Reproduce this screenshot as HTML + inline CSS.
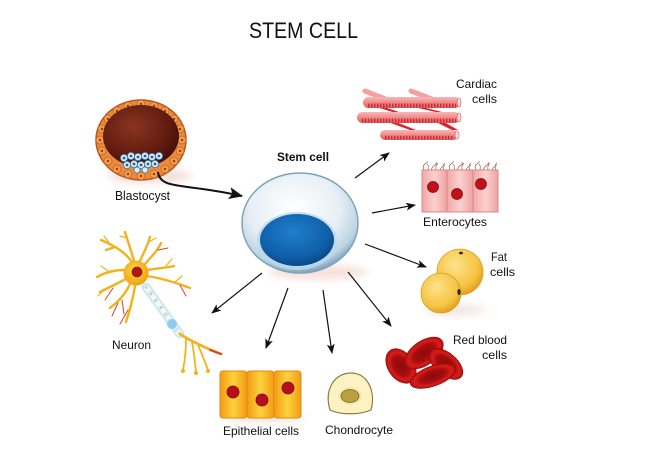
<!DOCTYPE html>
<html><head><meta charset="utf-8"><style>
html,body{margin:0;padding:0;background:#fff;}
svg{display:block;}
text{font-family:"Liberation Sans",Arial,sans-serif;fill:#111;}
</style></head><body>
<svg width="649" height="464" viewBox="0 0 649 464" xmlns="http://www.w3.org/2000/svg">
<defs>
<marker id="ah" markerUnits="userSpaceOnUse" markerWidth="10" markerHeight="8" refX="9" refY="4" orient="auto"><path d="M0,0 L10,4 L0,8 L2.5,4 z" fill="#111"/></marker>
<marker id="ahb" markerUnits="userSpaceOnUse" markerWidth="14" markerHeight="12" refX="13" refY="6" orient="auto"><path d="M0,0 L14,6 L0,12 L3,6 z" fill="#111"/></marker>
<radialGradient id="cellG" cx="0.45" cy="0.35" r="0.65"><stop offset="0" stop-color="#ffffff"/><stop offset="0.6" stop-color="#e6eff5"/><stop offset="0.88" stop-color="#bcd3e1"/><stop offset="1" stop-color="#7fa4bb"/></radialGradient>
<radialGradient id="nucG" cx="0.45" cy="0.35" r="0.7"><stop offset="0" stop-color="#1f7fcc"/><stop offset="0.7" stop-color="#0f5ea8"/><stop offset="1" stop-color="#0a3f7a"/></radialGradient>
<radialGradient id="cavG" cx="0.4" cy="0.35" r="0.7"><stop offset="0" stop-color="#8a3520"/><stop offset="0.7" stop-color="#5e1a0e"/><stop offset="1" stop-color="#3e0d06"/></radialGradient>
<radialGradient id="fatG" cx="0.4" cy="0.35" r="0.7"><stop offset="0" stop-color="#fde28a"/><stop offset="0.7" stop-color="#f5c442"/><stop offset="1" stop-color="#e09a1a"/></radialGradient>
<linearGradient id="epiG" x1="0" x2="1" y1="0" y2="0"><stop offset="0" stop-color="#f39a14"/><stop offset="0.5" stop-color="#fdd23c"/><stop offset="1" stop-color="#f39a14"/></linearGradient>
<linearGradient id="entG" x1="0" x2="1" y1="0" y2="0"><stop offset="0" stop-color="#f2a7a7"/><stop offset="0.5" stop-color="#fbd2d0"/><stop offset="1" stop-color="#f0a2a2"/></linearGradient>
<linearGradient id="tubeG" x1="0" x2="0" y1="0" y2="1"><stop offset="0" stop-color="#f9b8b8"/><stop offset="0.5" stop-color="#f08a8a"/><stop offset="1" stop-color="#e05a5a"/></linearGradient>
<radialGradient id="rbcG" cx="0.5" cy="0.5" r="0.5"><stop offset="0" stop-color="#8a0a0a"/><stop offset="0.55" stop-color="#a80e0e"/><stop offset="0.8" stop-color="#d81c1c"/><stop offset="1" stop-color="#b01010"/></radialGradient>
<radialGradient id="somaG" cx="0.45" cy="0.4" r="0.6"><stop offset="0" stop-color="#ffd84a"/><stop offset="1" stop-color="#f0a010"/></radialGradient>
<filter id="blur" x="-50%" y="-50%" width="200%" height="200%"><feGaussianBlur stdDeviation="4"/></filter>
</defs>

<!-- Title -->
<text x="249" y="38" font-size="22" textLength="109" lengthAdjust="spacingAndGlyphs">STEM CELL</text>

<!-- Blastocyst -->
<ellipse cx="150" cy="176" rx="42" ry="7" fill="#e8c8c0" opacity="0.6" filter="url(#blur)"/>
<ellipse cx="141" cy="140" rx="45" ry="40" fill="#e98a3c" stroke="#b8561c" stroke-width="1.5"/>
<g fill="#f29c4c" stroke="#c0621f" stroke-width="0.7">
<circle cx="182" cy="140" r="4"/><circle cx="180" cy="151" r="4"/><circle cx="174" cy="161" r="4"/><circle cx="165" cy="169" r="4"/><circle cx="154" cy="174" r="4"/><circle cx="141" cy="176" r="4"/><circle cx="128" cy="174" r="4"/><circle cx="117" cy="169" r="4"/><circle cx="108" cy="161" r="4"/><circle cx="102" cy="151" r="4"/><circle cx="100" cy="140" r="4"/><circle cx="102" cy="129" r="4"/><circle cx="108" cy="119" r="4"/><circle cx="117" cy="111" r="4"/><circle cx="128" cy="106" r="4"/><circle cx="141" cy="104" r="4"/><circle cx="154" cy="106" r="4"/><circle cx="165" cy="111" r="4"/><circle cx="174" cy="119" r="4"/><circle cx="180" cy="129" r="4"/>
</g>
<g fill="#9a3a12">
<circle cx="182" cy="140" r="1.2"/><circle cx="180" cy="151" r="1.2"/><circle cx="174" cy="161" r="1.2"/><circle cx="165" cy="169" r="1.2"/><circle cx="154" cy="174" r="1.2"/><circle cx="141" cy="176" r="1.2"/><circle cx="128" cy="174" r="1.2"/><circle cx="117" cy="169" r="1.2"/><circle cx="108" cy="161" r="1.2"/><circle cx="102" cy="151" r="1.2"/><circle cx="100" cy="140" r="1.2"/><circle cx="102" cy="129" r="1.2"/><circle cx="108" cy="119" r="1.2"/><circle cx="117" cy="111" r="1.2"/><circle cx="128" cy="106" r="1.2"/><circle cx="141" cy="104" r="1.2"/><circle cx="154" cy="106" r="1.2"/><circle cx="165" cy="111" r="1.2"/><circle cx="174" cy="119" r="1.2"/><circle cx="180" cy="129" r="1.2"/>
</g>
<ellipse cx="141" cy="136" rx="38" ry="31" fill="url(#cavG)"/>
<g fill="#d9eef9" stroke="#3a78a8" stroke-width="0.8">
<circle cx="124" cy="158" r="3.6"/><circle cx="131" cy="156" r="3.6"/><circle cx="138" cy="157" r="3.6"/><circle cx="145" cy="156" r="3.6"/><circle cx="152" cy="157" r="3.6"/><circle cx="159" cy="156" r="3.6"/>
<circle cx="127" cy="165" r="3.6"/><circle cx="134" cy="164" r="3.6"/><circle cx="141" cy="165" r="3.6"/><circle cx="148" cy="164" r="3.6"/><circle cx="155" cy="164" r="3.6"/>
<circle cx="137" cy="170" r="3"/><circle cx="145" cy="170" r="3"/>
</g>
<g fill="#2a5f95">
<circle cx="124" cy="158" r="1.4"/><circle cx="131" cy="156" r="1.4"/><circle cx="138" cy="157" r="1.4"/><circle cx="145" cy="156" r="1.4"/><circle cx="152" cy="157" r="1.4"/><circle cx="159" cy="156" r="1.4"/>
<circle cx="127" cy="165" r="1.4"/><circle cx="134" cy="164" r="1.4"/><circle cx="141" cy="165" r="1.4"/><circle cx="148" cy="164" r="1.4"/><circle cx="155" cy="164" r="1.4"/>
</g>
<text x="115" y="200" font-size="12.5" textLength="55" lengthAdjust="spacingAndGlyphs">Blastocyst</text>
<path d="M158,172 C160,190 185,183 242,196" fill="none" stroke="#111" stroke-width="2" marker-end="url(#ahb)"/>

<!-- Stem cell -->
<ellipse cx="318" cy="272" rx="50" ry="7" fill="#f1c9c0" opacity="0.6" filter="url(#blur)"/>
<ellipse cx="300" cy="223" rx="58" ry="50" fill="url(#cellG)" stroke="#7ea3ba" stroke-width="1.5"/>
<ellipse cx="297" cy="241" rx="40" ry="29" fill="#b9d8ec" opacity="0.8"/>
<ellipse cx="297" cy="240" rx="37" ry="26" fill="url(#nucG)"/>
<text x="277" y="161" font-size="12" font-weight="bold" textLength="52" lengthAdjust="spacingAndGlyphs">Stem cell</text>

<!-- Arrows -->
<g stroke="#111" stroke-width="1.2" fill="none" marker-end="url(#ah)">
<line x1="355" y1="178" x2="389" y2="153"/>
<line x1="372" y1="213" x2="415" y2="205"/>
<line x1="365" y1="244" x2="426" y2="267"/>
<line x1="348" y1="272" x2="391" y2="326"/>
<line x1="323" y1="290" x2="332" y2="353"/>
<line x1="288" y1="288" x2="266" y2="348"/>
<line x1="262" y1="273" x2="212" y2="313"/>
</g>

<!-- Cardiac cells -->
<g stroke-linecap="round">
<line x1="365" y1="91" x2="396" y2="103" stroke="#f4a0a0" stroke-width="5"/>
<line x1="411" y1="91" x2="442" y2="103" stroke="#f4a0a0" stroke-width="5"/>
<path d="M376,107 L396,113 L402,113 L384,107z" fill="#e0202a"/>
<path d="M414,107 L440,113 L446,113 L422,107z" fill="#e0202a"/>
<path d="M388,122 L410,130 L416,130 L396,122z" fill="#e0202a"/>
<path d="M436,122 L452,130 L458,130 L444,122z" fill="#e0202a"/>
</g>
<rect x="363" y="97" width="97" height="11" rx="5.5" fill="url(#tubeG)"/>
<line x1="368" y1="105.5" x2="456" y2="105.5" stroke="#c92a33" stroke-width="4" stroke-dasharray="1.4 1.6"/>
<rect x="357" y="112" width="103" height="11" rx="5.5" fill="url(#tubeG)"/>
<line x1="362" y1="120.5" x2="456" y2="120.5" stroke="#c92a33" stroke-width="4" stroke-dasharray="1.4 1.6"/>
<rect x="380" y="130" width="78" height="10" rx="5" fill="url(#tubeG)"/>
<line x1="385" y1="137.5" x2="454" y2="137.5" stroke="#c92a33" stroke-width="3.5" stroke-dasharray="1.4 1.6"/>
<g fill="#fbe0e0" stroke="#d05050" stroke-width="0.6">
<ellipse cx="459" cy="102.5" rx="2" ry="4.5"/><ellipse cx="459" cy="117.5" rx="2" ry="4.5"/><ellipse cx="457" cy="135" rx="2" ry="4.2"/>
</g>
<text x="456" y="88" font-size="12" textLength="41" lengthAdjust="spacingAndGlyphs">Cardiac</text>
<text x="472" y="103" font-size="12" textLength="25" lengthAdjust="spacingAndGlyphs">cells</text>

<!-- Enterocytes -->
<g fill="none" stroke="#b46a5a" stroke-width="0.8">
<path d="M424,170 q-2,-4 1,-6 q3,-2 2,-3 M428,170 q1,-4 -1,-6 M431,170 q2,-4 4,-5 q2,-1 1,-3 M436,170 q-1,-4 2,-7 M440,170 q2,-4 5,-5 M444,170 q-2,-5 1,-7"/>
<path d="M450,170 q-2,-4 1,-6 q3,-2 2,-3 M454,170 q1,-4 -1,-6 M457,170 q2,-4 4,-5 q2,-1 1,-3 M462,170 q-1,-4 2,-7 M466,170 q2,-4 5,-5 M470,170 q-2,-5 1,-7"/>
<path d="M476,170 q-2,-4 1,-6 q3,-2 2,-3 M480,170 q1,-4 -1,-6 M483,170 q2,-4 4,-5 q2,-1 1,-3 M488,170 q-1,-4 2,-7 M492,170 q2,-4 5,-5 M496,170 q-2,-5 1,-7"/>
</g>
<g stroke="#d88888" stroke-width="1">
<rect x="422" y="170" width="25" height="42" fill="url(#entG)"/>
<rect x="447" y="170" width="26" height="42" fill="url(#entG)"/>
<rect x="473" y="170" width="25" height="42" fill="url(#entG)"/>
</g>
<g fill="#c0101a" stroke="#8a0a10" stroke-width="0.8">
<circle cx="433" cy="187" r="5.5"/><circle cx="457" cy="194" r="5.5"/><circle cx="481" cy="184" r="5.5"/>
</g>
<text x="423" y="226" font-size="12" textLength="64" lengthAdjust="spacingAndGlyphs">Enterocytes</text>

<!-- Fat cells -->
<ellipse cx="455" cy="310" rx="30" ry="5" fill="#e8d0c8" opacity="0.6" filter="url(#blur)"/>
<circle cx="460" cy="272" r="23" fill="url(#fatG)" stroke="#d89a22" stroke-width="0.8"/>
<circle cx="441" cy="293" r="20" fill="url(#fatG)" stroke="#d89a22" stroke-width="0.8"/>
<ellipse cx="461" cy="253" rx="2" ry="1.3" fill="#222"/>
<ellipse cx="459" cy="292" rx="1.6" ry="3" fill="#222"/>
<text x="491" y="261" font-size="12" textLength="16" lengthAdjust="spacingAndGlyphs">Fat</text>
<text x="490" y="276" font-size="12" textLength="25" lengthAdjust="spacingAndGlyphs">cells</text>

<!-- Red blood cells -->
<g stroke="#8a0808" stroke-width="0.6">
<ellipse cx="401" cy="366" rx="19" ry="13" transform="rotate(55 401 366)" fill="url(#rbcG)"/>
<ellipse cx="424" cy="353" rx="22" ry="12" transform="rotate(-35 424 353)" fill="url(#rbcG)"/>
<ellipse cx="446" cy="364" rx="20" ry="11" transform="rotate(40 446 364)" fill="url(#rbcG)"/>
<ellipse cx="433" cy="376" rx="24" ry="10" transform="rotate(-20 433 376)" fill="url(#rbcG)"/>
</g>
<text x="453" y="344" font-size="12" textLength="54" lengthAdjust="spacingAndGlyphs">Red blood</text>
<text x="482" y="359" font-size="12" textLength="25" lengthAdjust="spacingAndGlyphs">cells</text>

<!-- Chondrocyte -->
<path d="M330,410 C324,390 334,373 351,373 C368,373 376,392 371,410 C360,415 340,415 330,410z" fill="#fdf2c4" stroke="#8a7a3a" stroke-width="1.2"/>
<ellipse cx="350" cy="396" rx="12" ry="9" fill="#f6e9b0"/>
<ellipse cx="350" cy="396" rx="9" ry="6.5" fill="#b8a040" stroke="#7a6a20" stroke-width="0.8"/>
<text x="325" y="434" font-size="12" textLength="68" lengthAdjust="spacingAndGlyphs">Chondrocyte</text>

<!-- Epithelial cells -->
<ellipse cx="265" cy="418" rx="40" ry="4" fill="#e8d0c8" opacity="0.6" filter="url(#blur)"/>
<g stroke="#e08a10" stroke-width="1">
<rect x="220" y="371" width="27" height="47" rx="3" fill="url(#epiG)"/>
<rect x="247" y="371" width="27" height="47" rx="3" fill="url(#epiG)"/>
<rect x="274" y="371" width="27" height="47" rx="3" fill="url(#epiG)"/>
</g>
<g fill="#b80e1a" stroke="#7a0a10" stroke-width="0.8">
<circle cx="233" cy="392" r="6"/><circle cx="262" cy="400" r="6"/><circle cx="288" cy="388" r="6"/>
</g>
<text x="223" y="435" font-size="12" textLength="76" lengthAdjust="spacingAndGlyphs">Epithelial cells</text>

<!-- Neuron -->
<g fill="none" stroke-linecap="round">
<g stroke="#f2b21c" stroke-width="2.4">
<path d="M132,262 C125,252 115,246 101,240"/>
<path d="M115,247 L106,250"/>
<path d="M134,261 C131,250 128,242 125,232"/>
<path d="M140,261 C144,252 148,245 150,237"/>
<path d="M145,264 C152,256 158,250 161,243"/>
<path d="M147,270 C158,268 166,268 174,266"/>
<path d="M147,276 C160,278 175,282 190,288"/>
<path d="M124,270 C115,270 106,272 97,277"/>
<path d="M126,279 C116,284 108,288 100,292"/>
<path d="M130,284 C125,295 118,302 110,308"/>
<path d="M135,286 C133,298 130,310 126,322"/>
</g>
<g stroke="#f2b21c" stroke-width="1.2">
<path d="M110,244 L104,236"/><path d="M127,238 L120,236"/><path d="M149,242 L156,238"/><path d="M165,267 L172,259"/><path d="M175,282 L182,276"/><path d="M108,271 L101,266"/><path d="M104,290 L98,296"/>
</g>
<g stroke="#d8452a" stroke-width="1">
<path d="M118,303 L112,316"/><path d="M122,300 L124,314"/><path d="M128,310 L120,324"/><path d="M180,285 L186,296"/><path d="M158,250 L168,248"/><path d="M113,288 L105,300"/>
</g>
</g>
<circle cx="136" cy="273" r="12.5" fill="url(#somaG)"/>
<circle cx="137" cy="272" r="5" fill="#b01818" stroke="#7a0a0a" stroke-width="0.6"/>
<line x1="146" y1="287" x2="180" y2="334" stroke="#cfe6f4" stroke-width="9" stroke-linecap="round"/>
<line x1="146" y1="287" x2="180" y2="334" stroke="#f0f8fc" stroke-width="5" stroke-dasharray="6 3"/>
<line x1="146" y1="287" x2="180" y2="334" stroke="#f2c03a" stroke-width="1.5" stroke-dasharray="2 6"/>
<circle cx="172" cy="324" r="5" fill="#8ecbef"/>
<g fill="none" stroke="#f2b21c" stroke-linecap="round">
<path d="M180,334 C192,342 206,348 221,354" stroke-width="2.6"/>
<path d="M210,350 L221,354" stroke="#d8452a" stroke-width="2"/>
<path d="M186,338 C186,350 185,360 183,370" stroke-width="1.8"/>
<path d="M192,342 C194,352 195,362 196,372" stroke-width="1.8"/>
<path d="M198,345 C202,354 205,362 208,370" stroke-width="1.8"/>
</g>
<g fill="#f2b21c"><circle cx="183" cy="371" r="2"/><circle cx="196" cy="373" r="2"/><circle cx="208" cy="371" r="2"/></g>
<text x="112" y="349" font-size="12" textLength="39" lengthAdjust="spacingAndGlyphs">Neuron</text>
</svg>
</body></html>
